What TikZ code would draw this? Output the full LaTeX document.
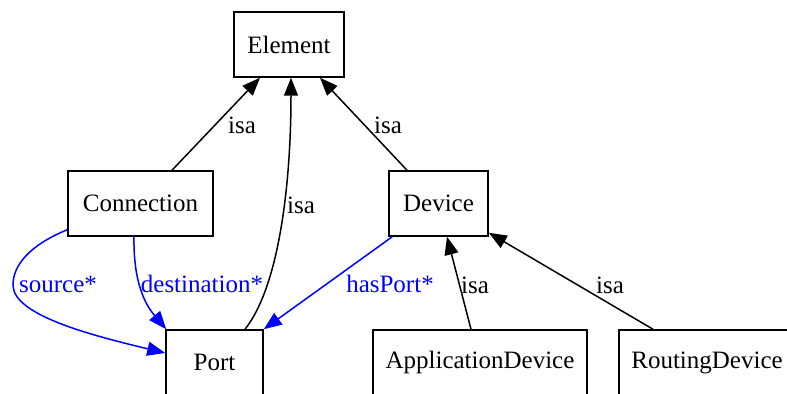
\documentclass[tikz,border=0pt]{standalone}
\usepackage{fontspec}
\setmainfont{Liberation Serif}
\usetikzlibrary{calc,arrows.meta}
\begin{document}
\begin{tikzpicture}[x=0.5pt,y=-0.5pt,
  box/.style={draw=black,line width=0.75pt,fill=white,inner sep=0pt,font=\fontsize{12.5}{14}\selectfont},
  isa/.style={draw=black,line width=0.75pt,-{Triangle[length=9pt,width=7pt]}},
  rel/.style={draw=blue,line width=0.75pt,-{Triangle[length=9pt,width=7pt]}},
  lbl/.style={font=\fontsize{12.5}{14}\selectfont,inner sep=0pt},
  blbl/.style={lbl,text=blue}]
\useasboundingbox[fill=white] (0,0) rectangle (787,394);
\node[box,minimum width=55pt,minimum height=32.5pt] (elem) at (289,44.5) {Element};
\node[box,minimum width=72.5pt,minimum height=32.5pt] (conn) at (140.5,203.5) {Connection};
\node[box,minimum width=49.5pt,minimum height=32.5pt] (dev) at (438.5,203.5) {Device};
\node[box,minimum width=48.5pt,minimum height=32.5pt] (port) at (214.5,362.5) {Port};
\node[box,minimum width=107pt,minimum height=32.5pt] (app) at (480,362.5) {ApplicationDevice};
\node[box,minimum width=88pt,minimum height=32.5pt] (rout) at (707,362.5) {RoutingDevice};
% isa edges
\draw[isa] ($(conn.north)+(31.5,0)$) -- ($(elem.south)+(-29,0)$);
\draw[isa] ($(port.north)+(30.5,0)$) .. controls (280,285) and (291,180) .. ($(elem.south)+(2,0)$);
\draw[isa] ($(dev.north)+(-31.5,0)$) -- ($(elem.south)+(31,0)$);
\draw[isa] ($(app.north)+(-9,0)$) -- ($(dev.south)+(8.5,0)$);
\draw[isa] ($(rout.north)+(-54,0)$) -- ($(dev.south east)+(0,-4)$);
% relations
\draw[rel] ($(conn.south west)+(0,-7)$) .. controls (30,245) and (13,265) .. (13,285) .. controls (13,315) and (90,335) .. ($(port.west)+(0,-9.5)$);
\draw[rel] ($(conn.south)+(-6.5,0)$) .. controls (133,290) and (150,310) .. ($(port.north west)+(1,0)$);
\draw[rel] ($(dev.south west)+(4,0)$) -- (port.north east);
% labels
\node[lbl] (l1) at (242,125) {isa};
\node[lbl] (l2) at (388,125) {isa};
\node[lbl] (l3) at (301,205) {isa};
\node[lbl] (l4) at (475,285) {isa};
\node[lbl] (l5) at (610,285) {isa};
\node[blbl] (l6) at (58,284) {source*};
\node[blbl] (l7) at (202,284) {destination*};
\node[blbl] (l8) at (390,284) {hasPort*};
\end{tikzpicture}
\end{document}
